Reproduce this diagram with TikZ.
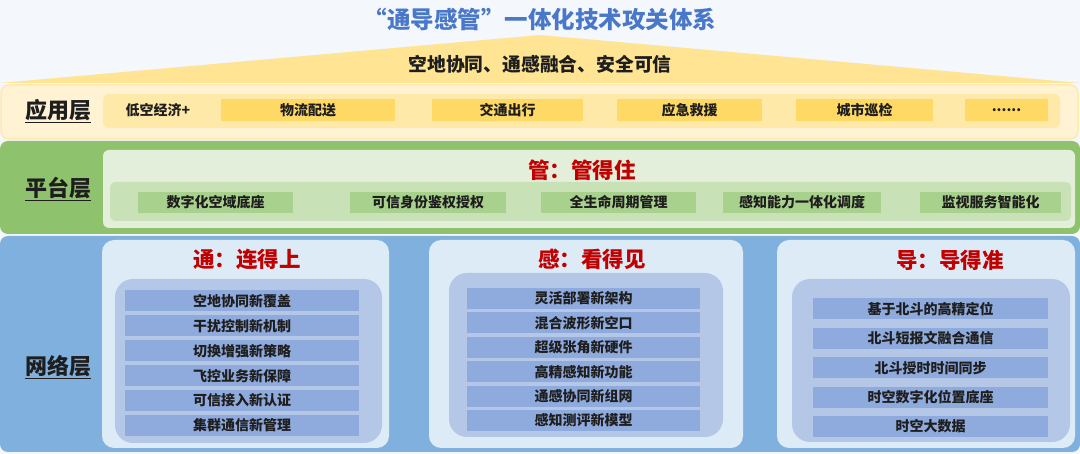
\documentclass[tikz,border=0pt]{standalone}
\usepackage{fontspec}
\setmainfont{Noto Sans CJK SC}
\definecolor{bgc}{HTML}{F4F7FB}
\definecolor{tri}{HTML}{FFE494}
\definecolor{appout}{HTML}{FFF3D4}
\definecolor{appedge}{HTML}{FFE9AE}
\definecolor{appin}{HTML}{FFE9A8}
\definecolor{appbox}{HTML}{FFD966}
\definecolor{plout}{HTML}{8FC26C}
\definecolor{plin}{HTML}{E3EFDA}
\definecolor{plband}{HTML}{C8E1B6}
\definecolor{plbox}{HTML}{A9D18E}
\definecolor{nwout}{HTML}{80B0DE}
\definecolor{nwpanel}{HTML}{DDEBF7}
\definecolor{nwin}{HTML}{B4C7E7}
\definecolor{nwbox}{HTML}{8FAADC}
\definecolor{redt}{HTML}{C00000}
\definecolor{bluet}{HTML}{4A78C8}
\definecolor{txt}{HTML}{1E1E1E}
\begin{document}
\begin{tikzpicture}[x=1pt,y=-1pt,
  every node/.style={inner sep=0pt, outer sep=0pt},
  itemtxt/.style={font=\bfseries\fontsize{14}{16}\selectfont, text=txt},
  appitem/.style={itemtxt, fill=appbox, minimum height=22pt},
  plitem/.style={itemtxt, fill=plbox, minimum height=21pt},
  nwitem/.style={itemtxt, fill=nwbox, minimum height=21pt},
  layerlbl/.style={font=\bfseries\fontsize{22}{26}\selectfont, text=txt},
  redtitle/.style={font=\bfseries\fontsize{21.5}{25}\selectfont, text=redt},
  panel/.style={fill=nwpanel, rounded corners=12pt, minimum height=208pt},
  inpanel/.style={fill=nwin, rounded corners=18pt}
]
\useasboundingbox (0,0) rectangle (1080,454);
\fill[bgc] (0,0) rectangle (1080,454);
% top
\node[font=\bfseries\fontsize{23.5}{28}\selectfont, text=bluet] (title) at (540,19) {“通导感管”一体化技术攻关体系};
\fill[tri] (0,83) -- (540,35) -- (1080,83) -- cycle;
\node[font=\bfseries\fontsize{18.8}{22}\selectfont, text=txt] (sub) at (540,64) {空地协同、通感融合、安全可信};
% application layer
\node[fill=appout, draw=appedge, line width=1.5pt, rounded corners=8pt, minimum width=1077pt, minimum height=54pt] (appo) at (539.5,112) {};
\node[fill=appin, rounded corners=6pt, minimum width=957pt, minimum height=34pt] (appi) at (581.5,111) {};
\node[layerlbl] (applbl) at (58,111) {\underline{应用层}};
\node[itemtxt] (a0) at (158,110) {低空经济+};
\node[appitem, minimum width=174pt] (a1) at (308,110) {物流配送};
\node[appitem, minimum width=151pt] (a2) at (507.5,110) {交通出行};
\node[appitem, minimum width=145pt] (a3) at (689.5,110) {应急救援};
\node[appitem, minimum width=137pt] (a4) at (864.5,110) {城市巡检};
\node[appitem, minimum width=83pt] (a5) at (1006.5,110) {......};
% platform layer
\node[fill=plout, rounded corners=8pt, minimum width=1080pt, minimum height=93pt] (plo) at (540,187.5) {};
\node[fill=plin, rounded corners=6pt, minimum width=972pt, minimum height=78pt] (pli) at (589,189) {};
\node[fill=plband, rounded corners=5pt, minimum width=961pt, minimum height=39pt] (plb) at (590.5,201.5) {};
\node[layerlbl] (pllbl) at (58,189) {\underline{平台层}};
\node[redtitle] (pltitle) at (582,170) {管：管得住};
\node[plitem, minimum width=155pt] (p1) at (215.5,202.5) {数字化空域底座};
\node[plitem, minimum width=156pt] (p2) at (428,202.5) {可信身份鉴权授权};
\node[plitem, minimum width=155pt] (p3) at (618.5,202.5) {全生命周期管理};
\node[plitem, minimum width=158pt] (p4) at (802,202.5) {感知能力一体化调度};
\node[plitem, minimum width=141pt] (p5) at (990.5,202.5) {监视服务智能化};
% network layer
\node[fill=nwout, rounded corners=8pt, minimum width=1080pt, minimum height=216pt] (nwo) at (540,344) {};
\node[layerlbl] (nwlbl) at (58,367) {\underline{网络层}};
% left panel
\node[panel, minimum width=287pt] (lp) at (245.5,344) {};
\node[inpanel, minimum width=267pt, minimum height=164pt] (lpi) at (248.5,361) {};
\node[redtitle] (lt) at (247,259) {通：连得上};
\foreach \t [count=\i from 0] in {空地协同新覆盖,干扰控制新机制,切换增强新策略,飞控业务新保障,可信接入新认证,集群通信新管理}{
  \node[nwitem, minimum width=234pt] (l\i) at (242,{301+24.9*\i}) {\t};
}
% middle panel
\node[panel, minimum width=314pt] (mp) at (586,344) {};
\node[inpanel, minimum width=274pt, minimum height=164pt] (mpi) at (586,355) {};
\node[redtitle] (mt) at (592,259) {感：看得见};
\foreach \t [count=\i from 0] in {灵活部署新架构,混合波形新空口,超级张角新硬件,高精感知新功能,通感协同新组网,感知测评新模型}{
  \node[nwitem, minimum width=233pt] (m\i) at (583.5,{298.5+24.4*\i}) {\t};
}
% right panel
\node[panel, minimum width=298pt] (rp) at (926,344) {};
\node[inpanel, minimum width=278pt, minimum height=163pt] (rpi) at (931,360.5) {};
\node[redtitle] (rt) at (950,260) {导：导得准};
\foreach \t [count=\i from 0] in {基于北斗的高精定位,北斗短报文融合通信,北斗授时时间同步,时空数字化位置底座,时空大数据}{
  \node[nwitem, minimum width=235pt] (r\i) at (930.5,{309+29.4*\i}) {\t};
}
\end{tikzpicture}
\end{document}
